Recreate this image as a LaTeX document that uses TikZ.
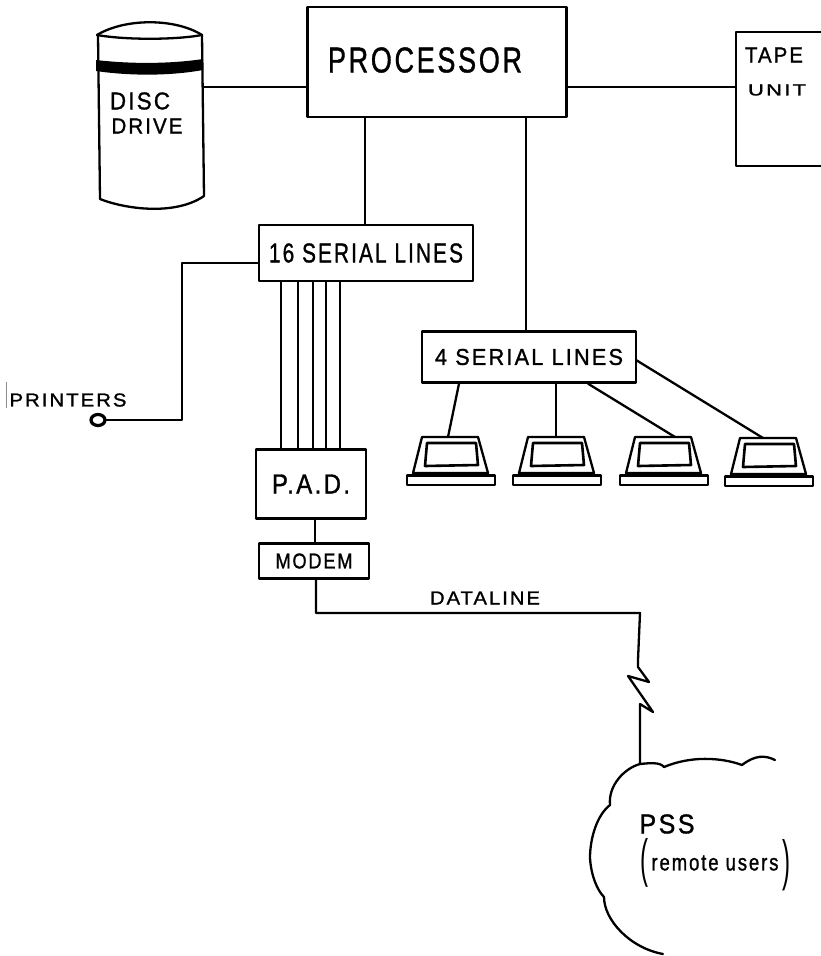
\documentclass[tikz,border=0pt]{standalone}
\usepackage{graphicx}
\usepackage{fontspec}
\usetikzlibrary{shapes.geometric}
\setmainfont{Liberation Sans}
\newfontfamily\handfont[LetterSpace=10,FakeBold=1.2]{Liberation Sans}
\newcommand{\handtext}[3]{\resizebox{#1pt}{#2pt}{\handfont #3}}
\tikzset{
  ink/.style={line width=2.3pt,draw=black,line join=round,line cap=round},
  boxnode/.style={ink,rectangle,inner sep=0pt,anchor=center},
  label text/.style={inner sep=0pt,anchor=center,text=black},
  terminal/.pic={
    \draw[ink] (0,0) -- (56,0) -- (66,36) -- (-9,36) -- cycle;
    \draw[ink,line width=2.6pt] (5,6) -- (54,6) -- (56,28) -- (3,29) -- cycle;
    \draw[ink] (-15,38.5) rectangle (73,48);
    \draw[ink] (-9,37) -- (66,37);
  }
}
\begin{document}
\begin{tikzpicture}[x=1pt,y=-1pt]
\useasboundingbox (0,0) rectangle (820,956);
% boxes
\node[boxnode,minimum width=259pt,minimum height=110pt] (proc) at (437,62) {};
\node[label text] (proctext) at (425,60) {\handtext{194}{25}{PROCESSOR}};
\node[boxnode,minimum width=100pt,minimum height=134pt] (tape) at (786,99) {};
\node[label text] (tapetext) at (774,55) {\handtext{58}{15}{TAPE}};
\node[label text] (unittext) at (777,90) {\handtext{58}{11}{UNIT}};
\node[boxnode,minimum width=214pt,minimum height=56pt] (ser16) at (366,253) {\handtext{194}{19}{16 SERIAL LINES}};
\node[boxnode,minimum width=214pt,minimum height=51pt] (ser4) at (529,357) {\handtext{188}{16}{4 SERIAL LINES}};
\node[boxnode,minimum width=110pt,minimum height=69pt] (pad) at (311,484) {\handtext{78}{19}{P.A.D.}};
\node[boxnode,minimum width=110pt,minimum height=35pt] (modem) at (314,561) {\handtext{77}{15}{MODEM}};
% disc drive
\draw[ink] (97,35) .. controls (125,18) and (175,18) .. (202,35);
\draw[ink] (97,35) .. controls (125,40) and (175,40) .. (202,35);
\draw[ink] (98,35) -- (100,199) .. controls (125,209) and (175,216) .. (204,196) -- (202,35);
\fill[black] (96,60) .. controls (130,64) and (170,64) .. (203,59) -- (203,70) .. controls (170,76) and (130,76) .. (96,71) -- cycle;
\node[label text] (disctext) at (140,101) {\handtext{60}{17}{DISC}};
\node[label text] (drivetext) at (147,126) {\handtext{71}{15}{DRIVE}};
\coordinate (disc) at (203,87);
\coordinate (tapein) at (736,87);
% processor connections
\draw[ink] (disc) -- (proc.west |- disc);
\draw[ink] (proc.east |- tapein) -- (tapein);
\draw[ink] (proc.south -| ser16.north) ++(-1,0) coordinate (pa) -- (pa |- ser16.north);
\coordinate (pb) at (526,0);
\draw[ink] (proc.south -| pb) -- (ser4.north -| pb);
% printers
\node[ink,line width=3.2pt,ellipse,inner sep=0pt,minimum width=14pt,minimum height=11pt] (printer) at (98,420) {};
\node[label text] (printertext) at (68,400) {\handtext{117}{13}{PRINTERS}};
\coordinate (corner) at (182,0);
\draw[ink] (ser16.west |- 0,263) -- (corner |- 0,263) -- (corner |- printer.east) -- (printer.east);
\draw[line width=1pt,draw=black!45] (6,382) -- (6,408);
% five lines
\foreach \lx in {281,298,313,326,340} {
  \coordinate (lx) at (\lx,0);
  \draw[ink,line width=1.8pt] (ser16.south -| lx) -- (pad.north -| lx);
}
% pad and modem
\coordinate (m1) at (315,0);
\draw[ink,line width=1.8pt] (pad.south -| m1) -- (modem.north -| m1);
% dataline
\node[label text] (datatext) at (485,598) {\handtext{110}{13}{DATALINE}};
\coordinate (z0) at (640,613);
\coordinate (z1) at (638,660);
\coordinate (z2) at (640,704);
\coordinate (cl) at (640,764);
\coordinate (m2) at (316,0);
\draw[ink] (modem.south -| m2) -- (m2 |- z0) -- (z0) -- (z1) -- (638,667) -- (649,682) -- (628,676) -- (653,712) -- (z2) -- (cl);
% cloud
\draw[ink] (775,760) .. controls (765,755) and (755,755) .. (742,765)
  .. controls (720,757) and (690,756) .. (664,767)
  .. controls (660,762) and (650,763) .. (cl)
  .. controls (625,768) and (608,785) .. (610,805)
  .. controls (597,815) and (590,838) .. (590,858)
  .. controls (591,875) and (597,890) .. (604,897)
  .. controls (604,920) and (630,948) .. (663,954);
\node[label text] (psstext) at (667,824) {\handtext{55}{19}{PSS}};
\node[label text] (remotetext) at (715,863) {\handtext{127}{15}{remote users}};
\node[label text] (lparen) at (644,863) {\resizebox{8pt}{38pt}{(}};
\node[label text] (rparen) at (786,865) {\resizebox{8pt}{40pt}{)}};
% terminals
\pic at (422,437) {terminal};
\pic at (528,437) {terminal};
\pic at (635,437) {terminal};
\pic at (740,438) {terminal};
\coordinate (t1) at (448,437);
\coordinate (t2) at (556,437);
\coordinate (t3) at (675,437);
\coordinate (t4) at (763,438);
\coordinate (s1) at (459,0);
\coordinate (s2) at (556,0);
\coordinate (s3) at (588,0);
\draw[ink] (ser4.south -| s1) -- (t1);
\draw[ink] (ser4.south -| s2) -- (t2);
\draw[ink] (ser4.south -| s3) -- (t3);
\coordinate (s4) at (636,360);
\draw[ink] (s4) -- (t4);
\end{tikzpicture}
\end{document}
